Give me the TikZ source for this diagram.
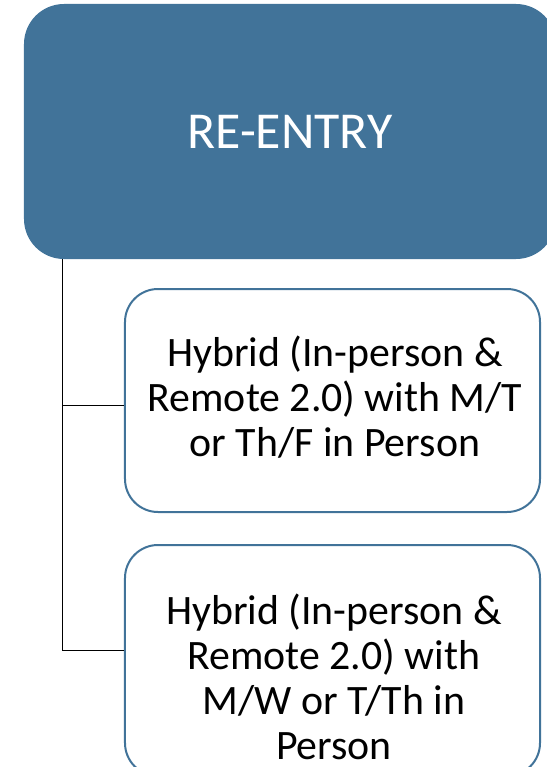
\documentclass[tikz,border=0pt]{standalone}
\usepackage{fontspec}
\setmainfont{Carlito}
\definecolor{reblue}{RGB}{65,115,153}

\begin{document}
\begin{tikzpicture}[x=1bp,y=-1bp,
    parent box/.style={rectangle,rounded corners=40bp,fill=reblue,
      text=white,minimum width=532bp,minimum height=255bp,
      font=\fontsize{52}{60}\selectfont},
    child box/.style={rectangle,rounded corners=33bp,draw=reblue,
      line width=2bp,fill=white,minimum width=415bp},
    child text/.style={align=center,font=\fontsize{42}{45}\selectfont},
    branch/.style={draw=black,line width=0.8bp}]
\useasboundingbox (0,0) rectangle (547,767);
\node[parent box] (reentry) at (290,131.5) {RE-ENTRY};
\node[child box,minimum height=223bp] (opt1) at (332.5,400.5) {};
\node[child text] (opt1text) at (335,397) {Hybrid (In-person \&\\Remote 2.0) with M/T\\or Th/F in Person};
\node[child box,minimum height=231bp] (opt2) at (332.5,660.5) {};
\node[child text] (opt2text) at (334,677) {Hybrid (In-person \&\\Remote 2.0) with\\M/W or T/Th in\\Person};
% tree lines
\coordinate (trunk) at ([xshift=39bp]reentry.south west);
\coordinate (join1) at ([yshift=-4.5bp]opt1.west);
\coordinate (join2) at ([yshift=10.5bp]opt2.west);
\path[branch] (trunk) |- (join1);
\path[branch] (trunk) |- (join2);
\end{tikzpicture}
\end{document}
